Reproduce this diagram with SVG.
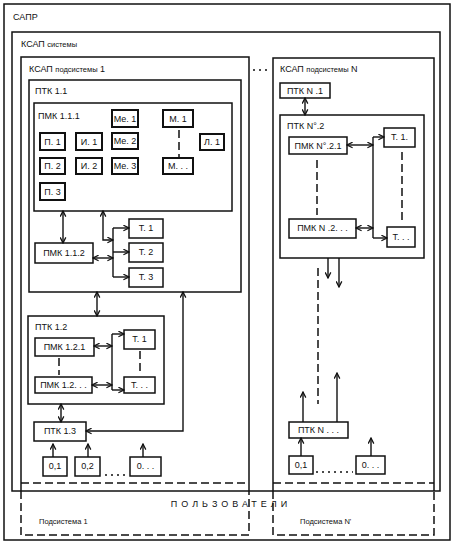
<svg xmlns="http://www.w3.org/2000/svg" width="458" height="547" viewBox="0 0 458 547">
<defs>
<marker id="ah" viewBox="0 0 10 10" refX="9" refY="5" markerWidth="7" markerHeight="7" markerUnits="userSpaceOnUse" orient="auto-start-reverse">
<path d="M1,1 L9,5 L1,9" fill="none" stroke="#111" stroke-width="1.8"/>
</marker>
<style>
text{font-family:"Liberation Sans",Arial,sans-serif;font-size:9px;fill:#111}
.c{text-anchor:middle}
.s{font-size:7.5px}
.box{fill:none;stroke:#111;stroke-width:1.5}
.sm{fill:#fff;stroke:#111;stroke-width:2}
.dl{fill:none;stroke:#111;stroke-width:1.5;stroke-dasharray:8 4}
.dot{fill:none;stroke:#111;stroke-width:1.5;stroke-dasharray:2 4}
.con{fill:none;stroke:#111;stroke-width:1.4}
.a2{marker-start:url(#ah);marker-end:url(#ah)}
.a1{marker-end:url(#ah)}
</style>
</defs>
<rect width="458" height="547" fill="#fff"/>

<g id="sapr">
<rect class="box" x="4" y="4" width="446" height="536"/>
<text x="13" y="20">САПР</text>
</g>
<g id="ksap-sys">
<rect class="box" x="12" y="32" width="428" height="459"/>
<text x="21" y="47">КСАП <tspan class="s">системы</tspan></text>
</g>
<g id="ksap-sub1">
<path class="box" d="M21,491 V57 H249 V491"/>
<path class="dl" d="M21,483 H249"/>
<text x="29" y="72">КСАП <tspan class="s">подсистемы</tspan> 1</text>
</g>
<g id="ksap-subN">
<path class="box" d="M273,491 V58 H434 V491"/>
<path class="dl" d="M273,483 H434"/>
<text x="280" y="72">КСАП <tspan class="s">подсистемы</tspan> N</text>
</g>
<g id="users">
<path class="dl" d="M21,491 V535 H249 V491"/>
<path class="dl" d="M273,491 V535 H434 V491"/>
<text class="c" x="231" y="507" letter-spacing="4">ПОЛЬЗОВАТЕЛИ</text>
<text class="s" x="39" y="524">Подсистема 1</text>
<text class="s" x="300" y="524">Подсистема N'</text>
</g>

<g id="ptk11">
<rect class="box" x="29" y="80" width="212" height="212"/>
<text x="35" y="94">ПТК 1.1</text>
</g>
<g id="pmk111">
<rect class="box" x="34" y="103" width="198" height="108"/>
<text x="38" y="119">ПМК 1.1.1</text>
</g>
<g id="me1"><rect class="sm" x="112" y="110" width="26" height="17"/><text class="c" x="125" y="122">Ме. 1</text></g>
<g id="m1"><rect class="sm" x="163" y="110" width="30" height="17"/><text class="c" x="178" y="122">М. 1</text></g>
<g id="p1"><rect class="sm" x="40" y="133" width="25" height="17"/><text class="c" x="52.5" y="145">П. 1</text></g>
<g id="i1"><rect class="sm" x="76" y="133" width="26" height="17"/><text class="c" x="89" y="145">И. 1</text></g>
<g id="me2"><rect class="sm" x="112" y="133" width="26" height="16"/><text class="c" x="125" y="144">Ме. 2</text></g>
<g id="l1"><rect class="sm" x="200" y="134" width="24" height="16"/><text class="c" x="212" y="145">Л. 1</text></g>
<g id="p2"><rect class="sm" x="40" y="158" width="25" height="16"/><text class="c" x="52.5" y="169">П. 2</text></g>
<g id="i2"><rect class="sm" x="76" y="158" width="26" height="16"/><text class="c" x="89" y="169">И. 2</text></g>
<g id="me3"><rect class="sm" x="112" y="158" width="26" height="16"/><text class="c" x="125" y="169">Ме. 3</text></g>
<g id="mdots"><rect class="sm" x="163" y="158" width="30" height="16"/><text class="c" x="178" y="169">М. . .</text></g>
<g id="p3"><rect class="sm" x="40" y="183" width="25" height="17"/><text class="c" x="52.5" y="195">П. 3</text></g>

<g id="pmk112"><rect class="box" x="35" y="243" width="58" height="20"/><text class="c" x="64" y="256">ПМК 1.1.2</text></g>
<g id="t11"><rect class="box" x="129" y="219" width="34" height="19"/><text class="c" x="146" y="231">Т. 1</text></g>
<g id="t12"><rect class="box" x="129" y="243" width="34" height="19"/><text class="c" x="146" y="255">Т. 2</text></g>
<g id="t13"><rect class="box" x="129" y="268" width="34" height="19"/><text class="c" x="146" y="280">Т. 3</text></g>

<g id="ptk12">
<rect class="box" x="28" y="316" width="136" height="88"/>
<text x="35" y="330">ПТК 1.2</text>
</g>
<g id="pmk121"><rect class="box" x="35" y="338" width="59" height="18"/><text class="c" x="64.5" y="350">ПМК 1.2.1</text></g>
<g id="t121"><rect class="box" x="124" y="330" width="31" height="19"/><text class="c" x="139.5" y="342">Т. 1</text></g>
<g id="pmk12n"><rect class="box" x="35" y="377" width="57" height="16"/><text class="c" x="63.5" y="388">ПМК 1.2. . .</text></g>
<g id="t12n"><rect class="box" x="124" y="377" width="31" height="16"/><text class="c" x="139.5" y="388">Т. . .</text></g>

<g id="ptk13"><rect class="box" x="34" y="422" width="52" height="19"/><text class="c" x="60" y="434">ПТК 1.3</text></g>
<g id="o11"><rect class="box" x="43" y="457" width="24" height="19"/><text class="c" x="55" y="469">0,1</text></g>
<g id="o12"><rect class="box" x="75" y="457" width="25" height="19"/><text class="c" x="87.5" y="469">0,2</text></g>
<g id="o1n"><rect class="box" x="130" y="457" width="31" height="19"/><text class="c" x="145.5" y="469">0. . .</text></g>

<g id="ptkN1"><rect class="box" x="280" y="83" width="50" height="15"/><text class="c" x="305" y="94">ПТК N .1</text></g>
<g id="ptkN2">
<rect class="box" x="280" y="115" width="144" height="143"/>
<text x="287" y="129">ПТК N°.2</text>
</g>
<g id="pmkN21"><rect class="box" x="289" y="137" width="58" height="17"/><text class="c" x="318" y="149">ПМК N°.2.1</text></g>
<g id="tN1"><rect class="box" x="384" y="128" width="31" height="19"/><text class="c" x="399.5" y="140">Т. 1.</text></g>
<g id="pmkN2n"><rect class="box" x="289" y="219" width="67" height="19"/><text class="c" x="322.5" y="231">ПМК N .2. . .</text></g>
<g id="tNn"><rect class="box" x="387" y="227" width="28" height="20"/><text class="c" x="401" y="240">Т. . .</text></g>
<g id="ptkNn"><rect class="box" x="289" y="422" width="59" height="16"/><text class="c" x="318.5" y="433">ПТК N . . .</text></g>
<g id="oN1"><rect class="box" x="289" y="456" width="24" height="18"/><text class="c" x="301" y="468">0,1</text></g>
<g id="oNn"><rect class="box" x="356" y="456" width="29" height="18"/><text class="c" x="370.5" y="468">0. . .</text></g>

<g id="connectors">
<path class="dot" d="M253,70 H269"/>
<path class="dl" d="M179,130 V157" stroke-dasharray="4 4"/>
<path class="con a2" d="M63,211 V243"/>
<path class="con a2" d="M103,211 V240 H113"/>
<path class="con" d="M113,228 V277"/>
<path class="con a1" d="M113,228 H129"/>
<path class="con a1" d="M113,252 H129"/>
<path class="con a1" d="M113,277 H129"/>
<path class="con a2" d="M93,258 H113"/>
<path class="con a2" d="M97,292 V316"/>
<path class="con a2" d="M183,292 V431 H86"/>
<path class="con" d="M112,334 V390"/>
<path class="con a1" d="M112,334 H124"/>
<path class="con a2" d="M94,346 H112"/>
<path class="con a2" d="M92,385 H112"/>
<path class="con a1" d="M112,390 H124"/>
<path class="dl" d="M59,358 V375" stroke-dasharray="4 4"/>
<path class="dl" d="M140,351 V375" stroke-dasharray="4 4"/>
<path class="con a2" d="M61,404 V422"/>
<path class="con a1" d="M53,457 V444"/>
<path class="con a1" d="M88,457 V444"/>
<path class="con a1" d="M143,457 V444"/>
<path class="dot" d="M105,475 H126"/>
<path class="con a2" d="M305,98 V115"/>
<path class="con a2" d="M347,145 H373"/>
<path class="con" d="M373,137 V238"/>
<path class="con a1" d="M373,137 H384"/>
<path class="con a1" d="M373,238 H387"/>
<path class="con a2" d="M356,228 H373"/>
<path class="dl" d="M317,160 V215" stroke-dasharray="4 8"/>
<path class="dl" d="M402,152 V222" stroke-dasharray="4 8"/>
<path class="con a1" d="M328,258 V278"/>
<path class="con a1" d="M339,258 V287"/>
<path class="dl" d="M318,268 V404" stroke-dasharray="4 10"/>
<path class="con a1" d="M303,422 V392"/>
<path class="con a1" d="M337,422 V373"/>
<path class="con a1" d="M301,456 V438"/>
<path class="con a1" d="M371,456 V438"/>
<path class="dot" d="M316,472 H353"/>
</g>
</svg>
